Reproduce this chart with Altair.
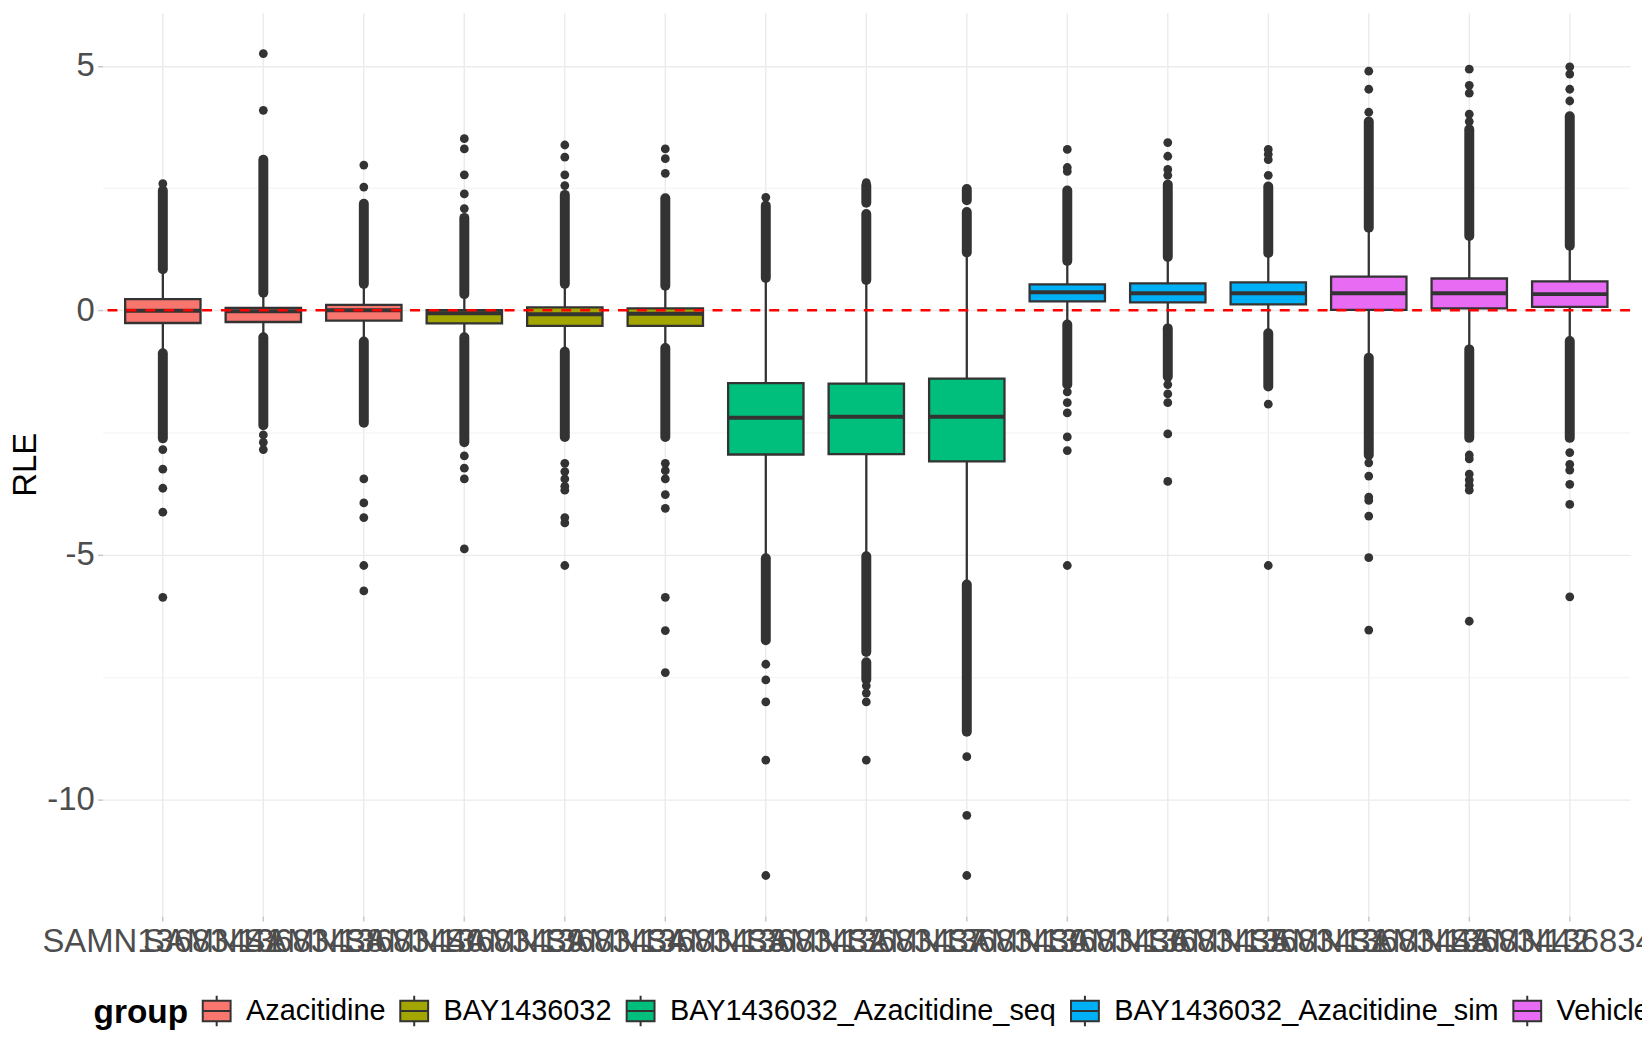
import altair as alt
import pandas as pd

# ---------------- data ----------------
samples = ["SAMN13683441", "SAMN13683438", "SAMN13683440", "SAMN13683439", "SAMN13683434",
           "SAMN13683433", "SAMN13683432", "SAMN13683437", "SAMN13683430", "SAMN13683436",
           "SAMN13683435", "SAMN13683431", "SAMN13683443", "SAMN13683442", "SAMN13683446"]
sample_group = ["Azacitidine", "Azacitidine", "Azacitidine",
                "BAY1436032", "BAY1436032", "BAY1436032",
                "BAY1436032_Azacitidine_seq", "BAY1436032_Azacitidine_seq", "BAY1436032_Azacitidine_seq",
                "BAY1436032_Azacitidine_sim", "BAY1436032_Azacitidine_sim", "BAY1436032_Azacitidine_sim",
                "Vehicle", "Vehicle", "Vehicle"]
group_names = ["Azacitidine", "BAY1436032", "BAY1436032_Azacitidine_seq",
               "BAY1436032_Azacitidine_sim", "Vehicle"]
group_colors = ["#F8766D", "#A3A500", "#00BF7D", "#00B0F6", "#E76BF3"]

q1 = [-0.26, -0.24, -0.21, -0.27, -0.32, -0.32, -2.95, -2.94, -3.09, 0.18, 0.16, 0.12, 0.01, 0.04, 0.07]
median = [-0.01, -0.02, 0.00, -0.06, -0.08, -0.07, -2.20, -2.18, -2.18, 0.37, 0.35, 0.35, 0.35, 0.35, 0.33]
q3 = [0.23, 0.05, 0.11, 0.00, 0.06, 0.04, -1.49, -1.50, -1.40, 0.53, 0.55, 0.57, 0.69, 0.65, 0.59]
whisker_lo = [-0.85, -0.51, -0.60, -0.51, -0.80, -0.73, -5.05, -5.01, -5.59, -0.27, -0.35, -0.45, -0.96, -0.78, -0.61]
whisker_hi = [0.80, 0.33, 0.50, 0.29, 0.50, 0.46, 0.59, 0.55, 1.13, 0.96, 1.04, 1.13, 1.66, 1.48, 1.29]

# runs of outliers so dense that they merge into a solid column (from, to)
dense_outlier_runs = [
    [(0.84, 2.45), (-0.88, -2.62)],
    [(0.36, 3.08), (-0.55, -2.35)],
    [(0.54, 2.18), (-0.64, -2.30)],
    [(0.33, 1.89), (-0.55, -2.70)],
    [(0.54, 2.36), (-0.85, -2.59)],
    [(0.50, 2.29), (-0.77, -2.59)],
    [(0.66, 2.14), (-5.07, -6.75)],
    [(0.62, 1.97), (2.20, 2.55), (-5.03, -6.99), (-7.20, -7.55)],
    [(1.18, 2.01), (2.25, 2.48), (-5.61, -8.62)],
    [(1.01, 2.45), (-0.29, -1.52)],
    [(1.09, 2.57), (-0.37, -1.36)],
    [(1.17, 2.53), (-0.47, -1.56)],
    [(1.69, 3.86), (-0.97, -2.96)],
    [(1.52, 3.70), (-0.80, -2.61)],
    [(1.32, 3.97), (-0.63, -2.61)],
]

# isolated outliers
single_outliers = [
    [2.59, -2.85, -3.25, -3.64, -4.13, -5.87],
    [4.09, 5.25, -2.55, -2.70, -2.85],
    [2.52, 2.97, -3.45, -3.94, -4.24, -5.22, -5.74],
    [2.08, 2.38, 2.77, 3.30, 3.51, -2.98, -3.23, -3.45, -4.88],
    [2.55, 2.77, 3.13, 3.38, -3.13, -3.30, -3.45, -3.60, -3.68, -4.24, -4.35, -5.22],
    [2.80, 3.10, 3.30, -3.13, -3.28, -3.45, -3.77, -4.05, -5.87, -6.55, -7.41],
    [2.31, -7.24, -7.56, -8.01, -9.20, -11.56],
    [2.61, -7.68, -7.83, -8.01, -9.20],
    [-9.13, -10.33, -11.56],
    [2.84, 2.92, 3.29, -1.67, -1.89, -2.10, -2.59, -2.87, -5.22],
    [2.76, 2.88, 3.15, 3.43, -1.52, -1.71, -1.89, -2.53, -3.50],
    [2.76, 3.08, 3.19, 3.29, -1.92, -5.22],
    [4.05, 4.52, 4.89, -3.12, -3.39, -3.82, -3.89, -4.21, -5.06, -6.54],
    [3.86, 4.01, 4.44, 4.60, 4.93, -2.96, -3.04, -3.35, -3.47, -3.58, -3.68, -6.36],
    [4.28, 4.52, 4.83, 4.98, -2.91, -3.15, -3.27, -3.56, -3.97, -5.86],
]

reference_line = [0]
y_breaks = [-10, -7.5, -5, -2.5, 0, 2.5, 5]

# ---------------- tables ----------------
box_df = pd.DataFrame({"sample": samples, "group": sample_group, "q1": q1, "median": median,
                       "q3": q3, "lo": whisker_lo, "hi": whisker_hi})
run_rows = [{"sample": s, "a": a, "b": b} for s, runs in zip(samples, dense_outlier_runs) for a, b in runs]
runs_df = pd.DataFrame(run_rows)
pt_rows = [{"sample": s, "v": v} for s, vals in zip(samples, single_outliers) for v in vals]
pts_df = pd.DataFrame(pt_rows)
ref_df = pd.DataFrame({"y": reference_line})

FONT = "Liberation Sans"
W, H = 1535, 908

x_enc = alt.X("sample:N", sort=samples,
              scale=alt.Scale(domain=samples, paddingInner=0.25, paddingOuter=0.225),
              axis=alt.Axis(title=None, labelAngle=0, labelFontSize=33, labelColor="#4D4D4D",
                            labelFont=FONT, labelOverlap=False, labelLimit=1000, labelPadding=5,
                            labelBaseline="top", labelAlign="center",
                            tickSize=5, tickColor="#C8C8C8", tickWidth=1.5,
                            domain=False, grid=True, gridColor="#EBEBEB", gridWidth=1.4,
                            bandPosition=0.5))

y_scale = alt.Scale(domain=[-12.39, 6.09], nice=False, zero=False)
minor_test = "datum.value % 5 !== 0"
y_axis = alt.Axis(values=y_breaks, title="RLE", titleFontSize=33, titleColor="#000000",
                  titleFont=FONT, titleFontWeight="normal", titleAngle=270,
                  titleX=-77, titleY=H / 2, titleAlign="center", titleBaseline="middle",
                  labelExpr="datum.value % 5 === 0 ? '' + datum.value : ''",
                  labelFontSize=33, labelColor="#4D4D4D", labelFont=FONT, labelPadding=3.4,
                  tickSize=5, tickWidth=1.5,
                  tickColor={"condition": {"test": minor_test, "value": "transparent"}, "value": "#C8C8C8"},
                  gridColor={"condition": {"test": minor_test, "value": "#F2F2F2"}, "value": "#EBEBEB"},
                  gridWidth={"condition": {"test": minor_test, "value": 1.0}, "value": 1.4},
                  domain=False, grid=True)


def Y(field):
    return alt.Y(field, scale=y_scale, axis=y_axis)


whiskers = alt.Chart(box_df).mark_rule(color="#333333", strokeWidth=2.3).encode(
    x=x_enc, y=Y("lo:Q"), y2="hi:Q")

dense = alt.Chart(runs_df).mark_rule(color="#333333", strokeWidth=10, strokeCap="round").encode(
    x=x_enc, y=Y("a:Q"), y2="b:Q")

points = alt.Chart(pts_df).mark_circle(color="#333333", size=78, opacity=1).encode(
    x=x_enc, y=Y("v:Q"))

legend_symbol = "M-1,-0.74H1V0.74H-1Z M-1,0H1 M0,-0.74V-1.09 M0,0.74V1.09"
boxes = alt.Chart(box_df).mark_bar(stroke="#333333", strokeWidth=2.3, opacity=1).encode(
    x=x_enc, y=Y("q1:Q"), y2="q3:Q",
    color=alt.Color("group:N",
                    scale=alt.Scale(domain=group_names, range=group_colors),
                    legend=alt.Legend(title="group", orient="none", legendX=-9, legendY=988,
                                      direction="horizontal", titleOrient="left",
                                      titleFontSize=33.5, titleFontWeight="bold", titleColor="#000000",
                                      titleFont=FONT, titlePadding=13.7, titleBaseline="middle",
                                      labelFontSize=29, labelColor="#000000", labelFont=FONT,
                                      labelLimit=1000,
                                      labelOffset=14.5, columnPadding=10.5, padding=0,
                                      symbolType=legend_symbol, symbolSize=784,
                                      symbolStrokeColor="#333333", symbolStrokeWidth=2,
                                      symbolOpacity=1)))

medians = alt.Chart(box_df).mark_tick(color="#333333", thickness=4, size=76, opacity=1,
                                      orient="horizontal").encode(
    x=x_enc, y=Y("median:Q"))

ref = alt.Chart(ref_df).mark_rule(color="#FF0000", strokeWidth=2.5, strokeDash=[10, 9]).encode(
    y=Y("y:Q"))

chart = alt.layer(whiskers, dense, points, boxes, medians, ref).properties(
    width=W, height=H,
    autosize=alt.AutoSizeParams(type="none"),
    padding={"left": 95, "top": 2, "right": 12, "bottom": 120},
    background="#FFFFFF",
    view=alt.ViewBackground(stroke="transparent", strokeWidth=0),
).configure_view(strokeWidth=0, stroke="transparent").configure_axis(domain=False).configure(font=FONT)

chart.save("out.html", embed_options={"renderer": "svg", "actions": False})
